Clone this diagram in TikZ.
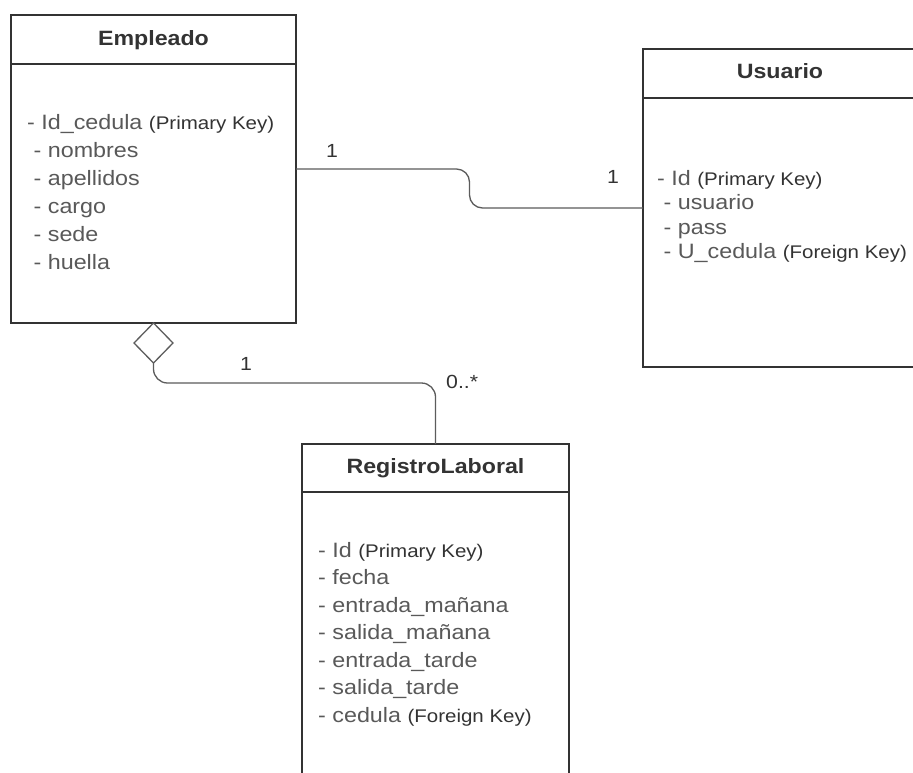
\documentclass[tikz,border=0pt]{standalone}
\usepackage{fontspec}
\setmainfont{Liberation Sans}
\newfontfamily\umlfont[FakeStretch=1.12]{Liberation Sans}
\usetikzlibrary{shapes.geometric,calc}
\definecolor{boxline}{HTML}{333333}
\definecolor{attrgray}{HTML}{595959}
\definecolor{keygray}{HTML}{333333}
\definecolor{linkgray}{HTML}{5C5C5C}
\newcommand{\attrsize}{\fontsize{20.8}{24}\selectfont}
\newcommand{\keysize}{\fontsize{18.3}{22}\selectfont}
\newcommand{\keytxt}[1]{{\keysize\color{keygray}#1}}
\tikzset{
  classbox/.style={draw=boxline, line width=2pt, fill=white, rectangle,
    inner sep=0pt, outer sep=0pt, anchor=north west},
  divider/.style={draw=boxline, line width=2pt},
  classtitle/.style={anchor=base, inner sep=0pt, text=keygray,
    font=\umlfont\bfseries\fontsize{20.7}{24}\selectfont},
  attr/.style={anchor=base west, inner sep=0pt, text=attrgray,
    font=\umlfont\attrsize},
  mult/.style={anchor=base west, inner sep=0pt, text=keygray,
    font=\umlfont\fontsize{19}{22}\selectfont},
  conn/.style={draw=linkgray, line width=1.3pt},
  aggmark/.style={diamond, draw=linkgray, line width=1.3pt, fill=white,
    inner sep=0pt, outer sep=0pt, minimum width=39pt, minimum height=40pt,
    anchor=north},
}
\begin{document}
\begin{tikzpicture}[x=1pt,y=-1pt]
\clip (0,0) rectangle (913,772);
\fill[white] (0,0) rectangle (913,772);

% --- Empleado ---
\node[classbox, minimum width=285pt, minimum height=308pt] (emp) at (11,15) {};
\draw[divider] (11,64) -- (296,64);
\node[classtitle] (empT) at (153.5,45) {Empleado};
\node[attr] (empA1) at (27,129) {- Id\_cedula \keytxt{(Primary Key)}};
\node[attr] (empA2) at (27,157) {\ - nombres};
\node[attr] (empA3) at (27,185) {\ - apellidos};
\node[attr] (empA4) at (27,213) {\ - cargo};
\node[attr] (empA5) at (27,241) {\ - sede};
\node[attr] (empA6) at (27,269) {\ - huella};

% --- Usuario ---
\node[classbox, minimum width=274pt, minimum height=318pt] (usu) at (643,49) {};
\draw[divider] (643,98) -- (917,98);
\node[classtitle] (usuT) at (780,78) {Usuario};
\node[attr] (usuA1) at (657,185) {- Id \keytxt{(Primary Key)}};
\node[attr] (usuA2) at (657,209.5) {\ - usuario};
\node[attr] (usuA3) at (657,234) {\ - pass};
\node[attr] (usuA4) at (657,258.5) {\ - U\_cedula \keytxt{(Foreign Key)}};

% --- RegistroLaboral ---
\node[classbox, minimum width=267pt, minimum height=360pt] (reg) at (302,444) {};
\draw[divider] (302,492) -- (569,492);
\node[classtitle] (regT) at (435.5,473) {RegistroLaboral};
\node[attr] (regA1) at (318,557) {- Id \keytxt{(Primary Key)}};
\node[attr] (regA2) at (318,584.5) {- fecha};
\node[attr] (regA3) at (318,612) {- entrada\_mañana};
\node[attr] (regA4) at (318,639.5) {- salida\_mañana};
\node[attr] (regA5) at (318,667) {- entrada\_tarde};
\node[attr] (regA6) at (318,694.5) {- salida\_tarde};
\node[attr] (regA7) at (318,722) {- cedula \keytxt{(Foreign Key)}};

% --- association Empleado -- Usuario ---
\coordinate (jog) at ($(emp.east)!0.5!(usu.west)$);
\draw[conn, rounded corners=13pt] (emp.east) -- (emp.east -| jog)
  -- (usu.west -| jog) -- (usu.west);
\node[mult] (m1) at (326,157) {1};
\node[mult] (m2) at (607,183) {1};

% --- aggregation Empleado <>-- RegistroLaboral ---
\node[aggmark] (agg) at (emp.south) {};
\coordinate (bend) at ($(reg.north)+(0,-61)$);
\draw[conn, rounded corners=14pt] (agg.south) -- (agg.south |- bend)
  -- (bend) -- (reg.north);
\node[mult] (m3) at (240,370) {1};
\node[mult] (m4) at (446,388) {0..*};
\end{tikzpicture}
\end{document}
